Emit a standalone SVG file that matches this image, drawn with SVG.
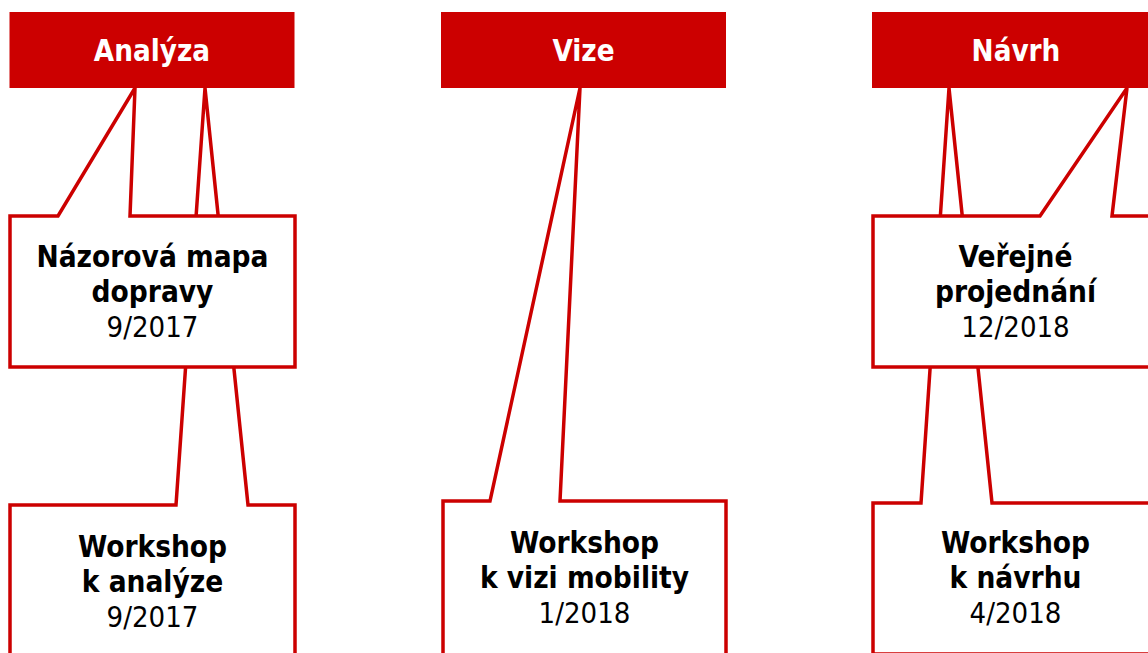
<svg xmlns="http://www.w3.org/2000/svg" width="1148" height="653" viewBox="0 0 1148 653">
<style>
.hdr{fill:#CC0000}
.box{fill:#fff;stroke:#CC0000;stroke-width:3.5;stroke-linejoin:miter}
.ht{font-family:"DejaVu Sans Condensed","DejaVu Sans",sans-serif;font-stretch:condensed;font-weight:bold;font-size:29.3px;fill:#fff;text-anchor:middle}
.bt{font-family:"DejaVu Sans Condensed","DejaVu Sans",sans-serif;font-stretch:condensed;font-weight:bold;font-size:29.5px;fill:#000;text-anchor:middle}
.dt{font-family:"DejaVu Sans Condensed","DejaVu Sans",sans-serif;font-stretch:condensed;font-weight:normal;font-size:29px;fill:#000;text-anchor:middle}
</style>
<rect width="1148" height="653" fill="#fff"/>
<g id="connectors"></g>
<g id="workshop-analyza">
<path class="box" d="M10,505 L176,505 L205,88 L248,505 L295,505 L295,680 L10,680 Z"/>
<text class="bt" x="152.5" y="557">Workshop</text>
<text class="bt" x="152.5" y="592">k analýze</text>
<text class="dt" x="152.5" y="627">9/2017</text>
</g>
<g id="nazorova-mapa">
<path class="box" d="M10,216 L58,216 L135,88 L130,216 L295,216 L295,367 L10,367 Z"/>
<text class="bt" x="152.5" y="267">Názorová mapa</text>
<text class="bt" x="152.5" y="302">dopravy</text>
<text class="dt" x="152.5" y="337">9/2017</text>
</g>
<g id="workshop-vize">
<path class="box" d="M443,501 L490,501 L580,88 L560,501 L726,501 L726,680 L443,680 Z"/>
<text class="bt" x="584.5" y="553">Workshop</text>
<text class="bt" x="584.5" y="588">k vizi mobility</text>
<text class="dt" x="584.5" y="623">1/2018</text>
</g>
<g id="workshop-navrh">
<path class="box" d="M873,503 L921,503 L949,88 L992,503 L1160,503 L1160,654 L873,654 Z"/>
<text class="bt" x="1015.5" y="553">Workshop</text>
<text class="bt" x="1015.5" y="588">k návrhu</text>
<text class="dt" x="1015.5" y="623">4/2018</text>
</g>
<g id="verejne-projednani">
<path class="box" d="M873,216 L1040,216 L1127,88 L1112,216 L1160,216 L1160,367 L873,367 Z"/>
<text class="bt" x="1015.5" y="267">Veřejné</text>
<text class="bt" x="1015.5" y="302">projednání</text>
<text class="dt" x="1015.5" y="337">12/2018</text>
</g>
<g id="analyza">
<rect class="hdr" x="9.5" y="12" width="285" height="76"/>
<text class="ht" x="152" y="61">Analýza</text>
</g>
<g id="vize">
<rect class="hdr" x="441" y="12" width="285" height="76"/>
<text class="ht" x="583.5" y="61">Vize</text>
</g>
<g id="navrh">
<rect class="hdr" x="872" y="12" width="290" height="76"/>
<text class="ht" x="1016" y="61">Návrh</text>
</g>
</svg>
